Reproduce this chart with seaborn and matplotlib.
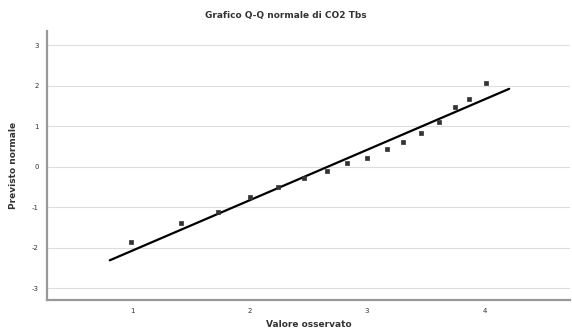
import numpy as np
import pandas as pd
import matplotlib
matplotlib.use("Agg")
import matplotlib.pyplot as plt
import seaborn as sns

# valori
osservato = [0.99, 1.42, 1.73, 2.00, 2.24, 2.46, 2.66, 2.83, 3.00, 3.17,
             3.31, 3.46, 3.61, 3.75, 3.87, 4.01]
previsto = [-1.87, -1.40, -1.13, -0.76, -0.49, -0.29, -0.10, 0.10, 0.22, 0.44,
            0.61, 0.84, 1.11, 1.47, 1.67, 2.06]
retta_x = [0.81, 4.21]
retta_y = [-2.31, 1.92]
x_ticks = [1, 2, 3, 4]
y_ticks = [-3, -2, -1, 0, 1, 2, 3]

df = pd.DataFrame({"oss": osservato, "prev": previsto})
df_line = pd.DataFrame({"x": retta_x, "y": retta_y})

sns.set_style("white")
plt.rcParams['font.family'] = ['DejaVu Sans']
plt.rcParams['axes.unicode_minus'] = False

fig = plt.figure(figsize=(5.72, 3.36), dpi=100)
ax = fig.add_axes([0.082, 0.107, 0.915, 0.80])

sns.lineplot(data=df_line, x="x", y="y", color="black", linewidth=1.6, ax=ax)
sns.scatterplot(data=df, x="oss", y="prev", color="#333333", s=12, marker="s",
                edgecolor="#333333", linewidth=0.5, ax=ax, zorder=3)

ax.set_xlim(0.275, 4.73)
ax.set_ylim(-3.29, 3.34)
ax.set_xticks(x_ticks)
ax.set_yticks(y_ticks)
ax.tick_params(axis="both", labelsize=5, length=3, width=0.6, color="#888888",
               labelcolor="#333333", pad=3)
ax.yaxis.grid(True, color="#dddddd", linewidth=0.8)
ax.set_axisbelow(True)

for s in ["top", "right"]:
    ax.spines[s].set_visible(False)
for s in ["left", "bottom"]:
    ax.spines[s].set_color("#999999")
    ax.spines[s].set_linewidth(1.6)

ax.set_xlabel("Valore osservato", fontsize=6.5, fontweight="bold", color="#333333", labelpad=4)
ax.set_ylabel("Previsto normale", fontsize=6.5, fontweight="bold", color="#333333", labelpad=10)
fig.text(0.5, 0.955, "Grafico Q-Q normale di CO2 Tbs", ha="center", va="center",
         fontsize=6.5, fontweight="bold", color="#333333")

fig.savefig("out.png", dpi=100)
